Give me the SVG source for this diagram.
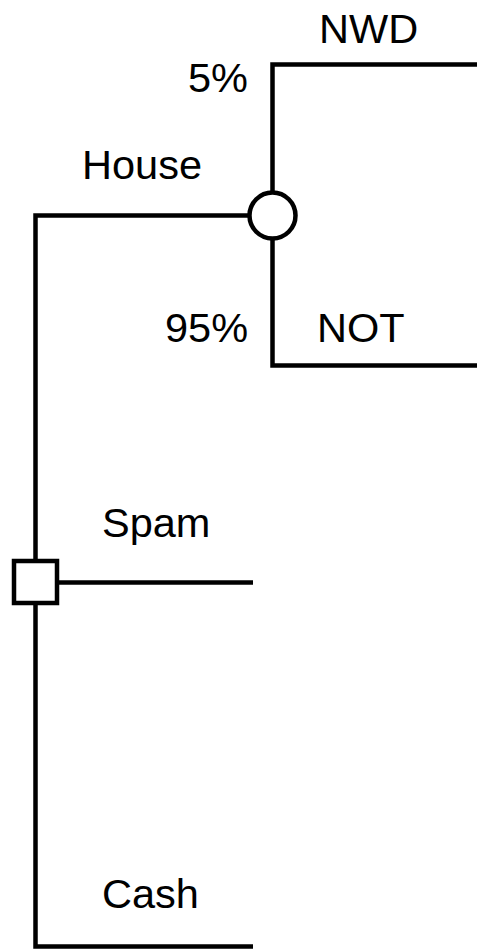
<svg xmlns="http://www.w3.org/2000/svg" width="477" height="949" viewBox="0 0 477 949">
<style>
.ln{fill:none;stroke:#000;stroke-width:4.5}
.nd{fill:#fff;stroke:#000;stroke-width:4.5}
text{font-family:"Liberation Sans",Arial,Helvetica,sans-serif;font-size:41.5px;fill:#000}
</style>
<rect width="477" height="949" fill="#fff"/>
<g id="connectors">
<path class="ln" d="M272.5,192 V64.5 H477"/>
<path class="ln" d="M272.5,238 V365.5 H477"/>
<path class="ln" d="M249.5,215.5 H35.5 V561"/>
<path class="ln" d="M35.5,603 V946.5 H253"/>
<path class="ln" d="M57,582.5 H253"/>
</g>
<g id="chance">
<ellipse class="nd" cx="272.5" cy="215.5" rx="23" ry="23"/>
</g>
<g id="decision">
<rect class="nd" x="14" y="561" width="43" height="42"/>
</g>
<g id="labels">
<text x="319" y="43">NWD</text>
<text x="188" y="92">5%</text>
<text x="82" y="179">House</text>
<text x="165" y="342">95%</text>
<text x="317" y="342">NOT</text>
<text x="102" y="537">Spam</text>
<text x="102" y="908">Cash</text>
</g>
</svg>
